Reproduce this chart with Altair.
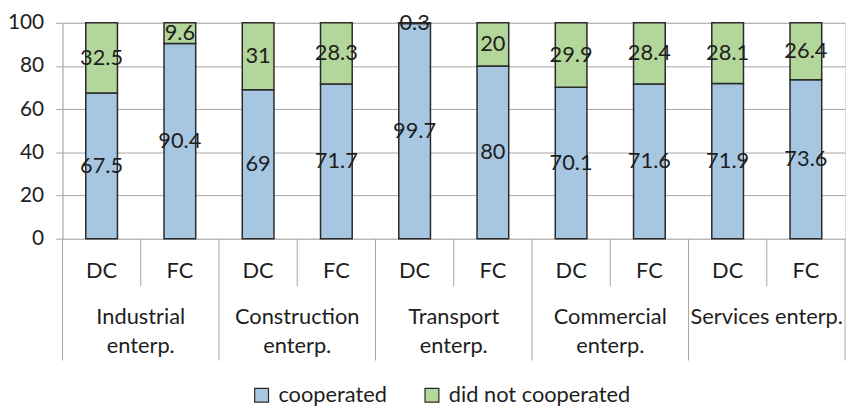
import altair as alt
import pandas as pd

groups_line1 = ["Industrial", "Construction", "Transport", "Commercial", "Services enterp."]
groups_line2 = ["enterp.", "enterp.", "enterp.", "enterp.", ""]
subs = ["DC", "FC"]
cooperated = [67.5, 90.4, 69, 71.7, 99.7, 80, 70.1, 71.6, 71.9, 73.6]
not_coop = [32.5, 9.6, 31, 28.3, 0.3, 20, 29.9, 28.4, 28.1, 26.4]
series = ["cooperated", "did not cooperated"]
colors = ["#a6c6e1", "#b3d69b"]
y_ticks = [0, 20, 40, 60, 80, 100]

FONT = "Lato"
FS = 22
TXT = "#1e1e1e"
GRID = "#a6a6a6"
TOP = 13
H = 231 - TOP  # x axis line stays at the same place on the page

ids, rows, bars = [], [], []
for gi in range(len(groups_line1)):
    for si, s in enumerate(subs):
        k = gi * 2 + si
        bid = f"b{k}"
        ids.append(bid)
        bars.append({"id": bid, "sub": s, "gi": gi, "si": si,
                     "g1": groups_line1[gi], "g2": groups_line2[gi]})
        c, n = cooperated[k], not_coop[k]
        rows.append({"id": bid, "series": series[0], "ord": 0, "value": c,
                     "mid": c / 2, "label": f"{c:g}"})
        rows.append({"id": bid, "series": series[1], "ord": 1, "value": n,
                     "mid": c + n / 2, "label": f"{n:g}"})

df = pd.DataFrame(rows)
bdf = pd.DataFrame(bars)

xscale = alt.Scale(domain=ids, paddingInner=0, paddingOuter=0)
xenc = alt.X("id:N", scale=xscale, axis=None)

# offsets below the x axis line (page y of axis line = 239)
def below(page_y):
    return page_y - 8 - TOP

bar = alt.Chart(df).mark_bar(
    width=alt.RelativeBandSize(0.405), stroke="#2a2a2a", strokeWidth=1.5
).encode(
    x=xenc,
    y=alt.Y("value:Q", stack="zero",
            scale=alt.Scale(domain=[0, 100], nice=False),
            axis=alt.Axis(values=y_ticks, title=None, grid=True, gridColor=GRID,
                          gridWidth=1, domainColor=GRID, domainWidth=1,
                          tickColor=GRID, tickSize=7, labelPadding=12,
                          labelFont=FONT, labelFontSize=21, labelColor=TXT)),
    color=alt.Color("series:N",
                    scale=alt.Scale(domain=series, range=colors),
                    legend=alt.Legend(title=None, orient="none", legendX=190,
                                      legendY=below(386), direction="horizontal",
                                      symbolType="square", symbolSize=196,
                                      symbolStrokeColor="#2a2a2a",
                                      symbolStrokeWidth=1.2, symbolOpacity=1,
                                      labelFont=FONT, labelFontSize=FS,
                                      labelColor=TXT, labelOffset=6,
                                      labelLimit=0, columnPadding=34)),
    order=alt.Order("ord:Q"),
)

labels = alt.Chart(df).mark_text(
    font=FONT, fontSize=FS, color=TXT, baseline="middle", align="center"
).encode(x=xenc, y=alt.Y("mid:Q"), text="label:N")

# category axis decoration
short_ticks = alt.Chart(bdf[bdf.si == 1]).mark_rule(color=GRID, strokeWidth=1).encode(
    x=alt.X("id:N", scale=xscale, axis=None, bandPosition=0),
    y=alt.value(H), y2=alt.value(below(287)))
long_ticks = alt.Chart(bdf[bdf.si == 0]).mark_rule(color=GRID, strokeWidth=1).encode(
    x=alt.X("id:N", scale=xscale, axis=None, bandPosition=0),
    y=alt.value(H), y2=alt.value(below(362)))
end_tick = alt.Chart(bdf.tail(1)).mark_rule(color=GRID, strokeWidth=1).encode(
    x=alt.X("id:N", scale=xscale, axis=None, bandPosition=1),
    y=alt.value(H), y2=alt.value(below(362)))

sub_text = alt.Chart(bdf).mark_text(
    font=FONT, fontSize=FS, color=TXT, baseline="middle", align="center"
).encode(x=xenc, y=alt.value(below(272)), text="sub:N")

fc = bdf[bdf.si == 1]
g1_text = alt.Chart(fc).mark_text(
    font=FONT, fontSize=FS, color=TXT, baseline="alphabetic", align="center"
).encode(x=alt.X("id:N", scale=xscale, axis=None, bandPosition=0),
         y=alt.value(below(325)), text="g1:N")
g2_text = alt.Chart(fc).mark_text(
    font=FONT, fontSize=FS, color=TXT, baseline="alphabetic", align="center"
).encode(x=alt.X("id:N", scale=xscale, axis=None, bandPosition=0),
         y=alt.value(below(354)), text="g2:N")

chart = alt.layer(
    short_ticks, long_ticks, end_tick, bar, labels, sub_text, g1_text, g2_text
).properties(
    width=790, height=H,
    autosize=alt.AutoSizeParams(type="none"),
    padding={"left": 55, "top": TOP, "right": 1, "bottom": 402 - TOP - H},
).configure_view(stroke=None).configure(background="white")

chart.save("out.html", embed_options={"renderer": "svg", "actions": False})
